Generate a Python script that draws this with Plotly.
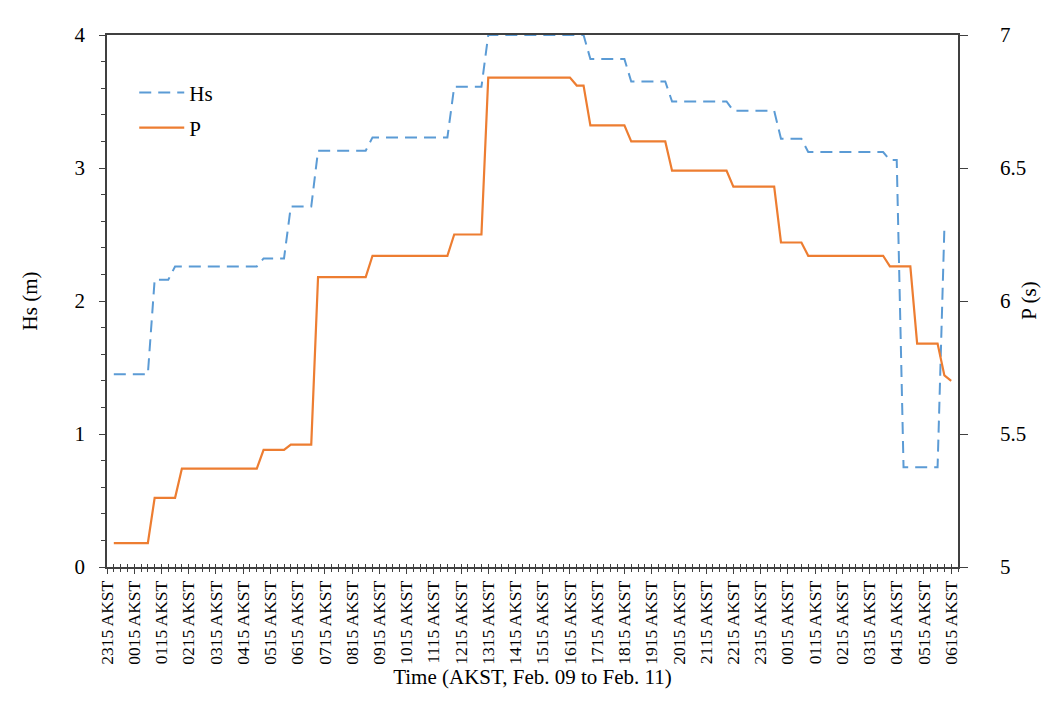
import plotly.graph_objects as go

# x positions are hours after 23:15 AKST, Feb. 09
tick_hours = list(range(32))
tick_labels = ["2315 AKST", "0015 AKST", "0115 AKST", "0215 AKST", "0315 AKST", "0415 AKST",
               "0515 AKST", "0615 AKST", "0715 AKST", "0815 AKST", "0915 AKST", "1015 AKST",
               "1115 AKST", "1215 AKST", "1315 AKST", "1415 AKST", "1515 AKST", "1615 AKST",
               "1715 AKST", "1815 AKST", "1915 AKST", "2015 AKST", "2115 AKST", "2215 AKST",
               "2315 AKST", "0015 AKST", "0115 AKST", "0215 AKST", "0315 AKST", "0415 AKST",
               "0515 AKST", "0615 AKST"]

hs_hours = [0.25, 1.5, 1.75, 2.25, 2.5, 5.5, 5.75, 6.5, 6.75, 7.5, 7.75, 9.5, 9.75, 12.5, 12.75,
            13.75, 14.0, 17.5, 17.75, 19.0, 19.25, 20.5, 20.75, 22.75, 23.0, 24.5, 24.75, 25.5,
            25.75, 28.5, 28.75, 29.0, 29.25, 30.5, 30.75]
hs_vals = [1.45, 1.45, 2.16, 2.16, 2.26, 2.26, 2.32, 2.32, 2.71, 2.71, 3.13, 3.13, 3.23, 3.23, 3.61,
           3.61, 4.0, 4.0, 3.82, 3.82, 3.65, 3.65, 3.50, 3.50, 3.43, 3.43, 3.22, 3.22,
           3.12, 3.12, 3.06, 3.06, 0.75, 0.75, 2.55]

p_hours = [0.25, 1.5, 1.75, 2.5, 2.75, 5.5, 5.75, 6.5, 6.75, 7.5, 7.75, 9.5, 9.75, 12.5, 12.75,
           13.75, 14.0, 17.0, 17.25, 17.5, 17.75, 19.0, 19.25, 20.5, 20.75, 22.75, 23.0, 24.5,
           24.75, 25.5, 25.75, 28.5, 28.75, 29.5, 29.75, 30.5, 30.75, 31.0]
p_vals = [5.09, 5.09, 5.26, 5.26, 5.37, 5.37, 5.44, 5.44, 5.46, 5.46, 6.09, 6.09, 6.17, 6.17, 6.25,
          6.25, 6.84, 6.84, 6.81, 6.81, 6.66, 6.66, 6.60, 6.60, 6.49, 6.49, 6.43, 6.43,
          6.22, 6.22, 6.17, 6.17, 6.13, 6.13, 5.84, 5.84, 5.72, 5.70]

FONT = "Liberation Serif"
AX = "#404040"

fig = go.Figure()
fig.add_trace(go.Scatter(x=hs_hours, y=hs_vals, name="Hs", mode="lines", legendgroup="hs",
                         line=dict(color="#5B9BD5", width=2, dash="12px,7px"), yaxis="y"))
fig.add_trace(go.Scatter(x=p_hours, y=p_vals, name="P", mode="lines", legendgroup="p",
                         line=dict(color="#ED7D31", width=2.2), yaxis="y2"))
# helper trace so the overlaid tick axis is drawn
fig.add_trace(go.Scatter(x=[], y=[], xaxis="x2", yaxis="y", showlegend=False, hoverinfo="skip"))

fig.update_layout(
    width=1035, height=711,
    margin=dict(l=99, r=85, t=27, b=152),
    paper_bgcolor="white", plot_bgcolor="white",
    font=dict(family=FONT, color="black", size=21),
    showlegend=True,
    legend=dict(x=0.032, y=0.93, xanchor="left", yanchor="top", bgcolor="rgba(0,0,0,0)",
                font=dict(family=FONT, size=21), itemwidth=45, tracegroupgap=5),
    xaxis=dict(range=[0, 31.25], tickmode="array", tickvals=tick_hours, ticktext=tick_labels,
               tickangle=-90, tickfont=dict(family=FONT, size=17.5), automargin=False,
               ticks="outside", ticklen=5, tickcolor=AX, tickwidth=1,
               minor=dict(tickmode="linear", tick0=0, dtick=0.25, ticks="outside", ticklen=3,
                          tickcolor=AX),
               showline=True, linecolor=AX, linewidth=1.5, mirror=True,
               showgrid=False, zeroline=False,
               title=dict(text="Time (AKST, Feb. 09 to Feb. 11)", font=dict(family=FONT, size=21),
                          standoff=1)),
    xaxis2=dict(range=[0, 31.25], overlaying="x", anchor="y", side="bottom",
                tickmode="linear", tick0=0, dtick=0.25, ticks="inside", ticklen=3,
                tickcolor=AX, showticklabels=False, showline=False, showgrid=False,
                zeroline=False, automargin=False),
    yaxis=dict(range=[0, 4], dtick=1, ticks="outside", ticklen=6, tickcolor=AX,
               minor=dict(dtick=0.2, ticks="outside", ticklen=4, tickcolor=AX),
               showline=True, linecolor=AX, linewidth=1.5, showgrid=False, zeroline=False,
               ticklabelstandoff=10, automargin=False,
               title=dict(text="Hs (m)", font=dict(family=FONT, size=21), standoff=31)),
    yaxis2=dict(range=[5, 7], dtick=0.5, overlaying="y", side="right", anchor="x",
                ticks="outside", ticklen=8, tickcolor=AX, automargin=False,
                showline=True, linecolor=AX, linewidth=1.5, showgrid=False, zeroline=False,
                ticklabelstandoff=28),
    annotations=[dict(text="P (s)", xref="paper", yref="paper", x=1.083, y=0.5,
                      xanchor="center", yanchor="middle", textangle=-90, showarrow=False,
                      font=dict(family=FONT, size=21, color="black"))],
)

fig.write_html("out.html")
